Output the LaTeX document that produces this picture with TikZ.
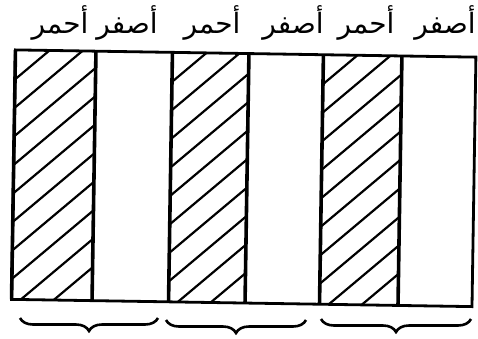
\documentclass[tikz,border=0pt]{standalone}
\usepackage{fontspec}
\usetikzlibrary{decorations.pathreplacing}
\TeXXeTstate=1
\newfontfamily\arabicfont[Script=Arabic]{DejaVu Sans}
\tikzset{
  frame/.style  ={draw=black,line width=2.8pt},
  divider/.style={draw=black,line width=3.6pt},
  hatch/.style  ={draw=black,line width=2.2pt},
  brc/.style    ={decorate,decoration={brace,mirror,amplitude=13pt},line width=2.6pt},
  lbl/.style    ={font=\arabicfont\fontsize{28}{32}\selectfont,inner sep=0pt,anchor=base},
}
\begin{document}
\begin{tikzpicture}[x=1pt,y=-1pt]
  \useasboundingbox (0,0) rectangle (478,338);
  % colour names over the stripes
  \node[lbl] (red1)    at (60,33)  {\beginR أحمر\endR};
  \node[lbl] (yellow1) at (127,33) {\beginR أصفر\endR};
  \node[lbl] (red2)    at (212,33) {\beginR أحمر\endR};
  \node[lbl] (yellow2) at (293,33) {\beginR أصفر\endR};
  \node[lbl] (red3)    at (366,33) {\beginR أحمر\endR};
  \node[lbl] (yellow3) at (445,33) {\beginR أصفر\endR};

  \begin{scope}[rotate around={-0.9:(244,177)}]
    % hatched stripes
    \foreach \xa/\xb in {13.5/94,170.5/247,321.5/400}{
      \begin{scope}
        \clip (\xa,53.5) rectangle (\xb,303);
        \foreach \k in {0,...,9}
          \draw[hatch] (\xa,83+28.5*\k) -- ++(120,-104);
      \end{scope}
      \draw[divider] (\xa,53.5) -- (\xa,303) (\xb,53.5) -- (\xb,303);
    }
    \draw[frame] (13.5,53.5) rectangle (474,303);
  \end{scope}

  % braces under each pair
  \draw[brc] (20,318) -- (158,318);
  \draw[brc] (166,320) -- (306,320);
  \draw[brc] (321,319) -- (471,319);
\end{tikzpicture}
\end{document}
